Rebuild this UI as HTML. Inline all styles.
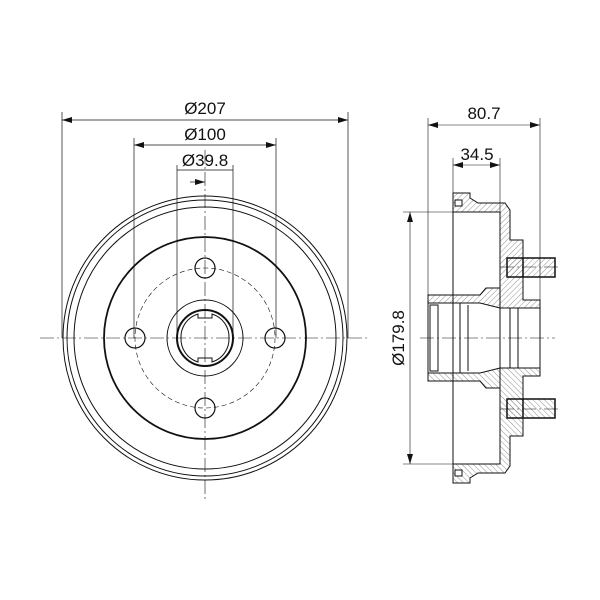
<!DOCTYPE html>
<html><head><style>body{margin:0;background:#fff}svg{display:block}text{font-family:"Liberation Sans",sans-serif;font-size:17px;fill:#111}</style></head>
<body>
<svg width="600" height="600" viewBox="0 0 600 600" xmlns="http://www.w3.org/2000/svg">
<defs>
<pattern id="h" width="4" height="4" patternUnits="userSpaceOnUse" patternTransform="rotate(45)"><line x1="0" y1="0" x2="0" y2="4" stroke="#777" stroke-width="0.8"/></pattern>
<marker id="a" viewBox="0 0 10 6" refX="10" refY="3" markerWidth="10" markerHeight="6" orient="auto-start-reverse" markerUnits="userSpaceOnUse"><path d="M0,0 L10,3 L0,6z" fill="#111"/></marker>
</defs>
<g stroke="#111" fill="none">
<line x1="40" y1="338" x2="370" y2="338" stroke-width="0.6" stroke-dasharray="14,3,2,3"/>
<line x1="205" y1="150" x2="205" y2="500" stroke-width="0.6" stroke-dasharray="14,3,2,3"/>
<circle cx="205" cy="338" r="142" stroke-width="1"/>
<circle cx="205" cy="338" r="138" stroke-width="1"/>
<circle cx="205" cy="338" r="131" stroke-width="1"/>
<circle cx="205" cy="338" r="101" stroke-width="1.8"/>
<circle cx="205" cy="338" r="70" stroke-width="0.6" stroke-dasharray="5,3"/>
<circle cx="205" cy="268" r="10" stroke-width="1.2"/>
<circle cx="205" cy="408" r="10" stroke-width="1.2"/>
<circle cx="135" cy="338" r="10" stroke-width="1.2"/>
<circle cx="275" cy="338" r="10" stroke-width="1.2"/>
<circle cx="205" cy="338" r="38" stroke-width="1"/>
<circle cx="205" cy="338" r="28" stroke-width="2"/>
<path d="M198,314 A24,24 0 0 0 181,338 A24,24 0 0 0 198,362 L198,358 L212,358 L212,362 A24,24 0 0 0 229,338 A24,24 0 0 0 212,314 L212,318 L198,318 Z" stroke-width="1"/>
<g stroke-width="0.7">
<line x1="62" y1="112" x2="62" y2="338"/><line x1="348" y1="112" x2="348" y2="338"/>
<line x1="62" y1="120" x2="348" y2="120" marker-start="url(#a)" marker-end="url(#a)"/>
<line x1="134" y1="138" x2="134" y2="338"/><line x1="276" y1="138" x2="276" y2="338"/>
<line x1="134" y1="145" x2="276" y2="145" marker-start="url(#a)" marker-end="url(#a)"/>
<line x1="177" y1="165" x2="177" y2="338"/><line x1="233" y1="165" x2="233" y2="338"/>
<line x1="177" y1="170" x2="233" y2="170"/>
<line x1="190" y1="182" x2="205" y2="182" marker-end="url(#a)"/>
</g>
</g>
<text x="205" y="114" text-anchor="middle">Ø207</text>
<text x="205" y="140" text-anchor="middle">Ø100</text>
<text x="205" y="166" text-anchor="middle">Ø39.8</text>
<g stroke="#111" stroke-width="1" fill="none">
<g id="half">
<path d="M453,193 L470,193 L470,198 L478,203 L505,203 L510,210 L510,240 L523,240 L523,300 L540,300 L540,308 L500,308 L480,303 L428,303 L428,295 L480,295 L486,288 L500,288 L500,212 L453,212 Z" fill="url(#h)"/>
<rect x="455" y="200" width="7" height="6" fill="#fff"/>
<rect x="507" y="258" width="48" height="19" fill="url(#h)" stroke-width="1.5"/>
<line x1="523" y1="258" x2="523" y2="277" stroke-width="1.5"/>
</g>
<use href="#half" transform="translate(0,676) scale(1,-1)"/>
<line x1="453" y1="212" x2="453" y2="464"/>
<line x1="500" y1="288" x2="500" y2="388"/>
<rect x="430" y="305" width="8" height="66"/>
<line x1="460" y1="303" x2="460" y2="373"/>
<line x1="468" y1="305" x2="468" y2="371"/>
<line x1="510" y1="308" x2="510" y2="368"/>
<line x1="518" y1="308" x2="518" y2="368"/>
<line x1="428" y1="303" x2="428" y2="373"/>
<line x1="540" y1="308" x2="540" y2="368"/>
</g>
<g stroke="#111" stroke-width="0.6" fill="none">
<line x1="420" y1="338" x2="555" y2="338" stroke-dasharray="14,3,2,3"/>
<line x1="500" y1="267" x2="560" y2="267" stroke-dasharray="14,3,2,3"/>
<line x1="500" y1="409" x2="560" y2="409" stroke-dasharray="14,3,2,3"/>
<line x1="428" y1="118" x2="428" y2="295"/>
<line x1="540" y1="118" x2="540" y2="300"/>
<line x1="428" y1="125" x2="540" y2="125" marker-start="url(#a)" marker-end="url(#a)"/>
<line x1="453" y1="158" x2="453" y2="193"/>
<line x1="500" y1="158" x2="500" y2="212"/>
<line x1="453" y1="165" x2="500" y2="165" marker-start="url(#a)" marker-end="url(#a)"/>
<line x1="403" y1="212" x2="453" y2="212"/>
<line x1="403" y1="464" x2="453" y2="464"/>
<line x1="410" y1="212" x2="410" y2="464" marker-start="url(#a)" marker-end="url(#a)"/>
</g>
<text x="484" y="119" text-anchor="middle">80.7</text>
<text x="477" y="160" text-anchor="middle">34.5</text>
<text transform="translate(404,338) rotate(-90)" text-anchor="middle">Ø179.8</text>
</svg>
</body></html>
